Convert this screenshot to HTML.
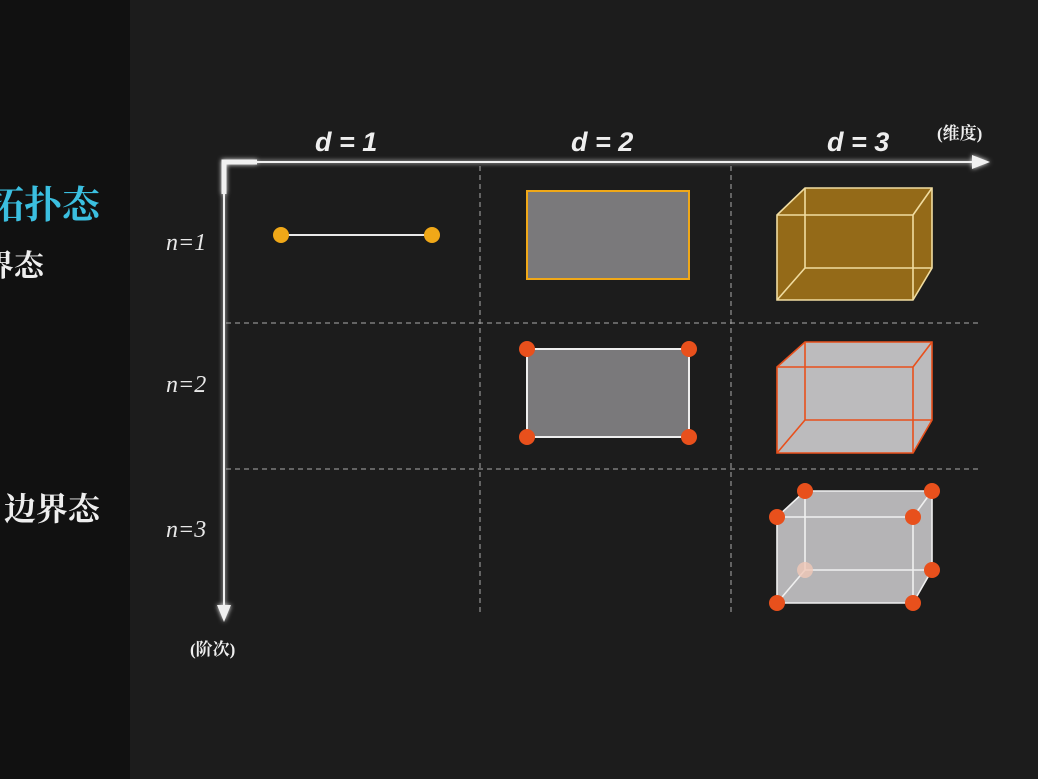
<!DOCTYPE html>
<html><head><meta charset="utf-8"><style>
html,body{margin:0;padding:0;background:#1c1c1c;width:1038px;height:779px;overflow:hidden}
svg{display:block}
.cjk{font-family:"Liberation Serif","Noto Serif CJK SC",serif;font-weight:bold}
.d{font-family:"Liberation Sans",sans-serif;font-weight:bold;font-style:italic;fill:#eeeeee;font-size:27px}
.n{font-family:"Liberation Serif",serif;font-style:italic;fill:#e8e8e8;font-size:24px}
</style></head><body>
<svg width="1038" height="779" viewBox="0 0 1038 779">
<defs>
<filter id="g" x="-20%" y="-20%" width="140%" height="140%"><feGaussianBlur stdDeviation="2.5" result="b"/><feMerge><feMergeNode in="b"/><feMergeNode in="SourceGraphic"/></feMerge></filter>
</defs>
<rect x="0" y="0" width="1038" height="779" fill="#1c1c1c"/>
<rect x="0" y="0" width="130" height="779" fill="#111111"/>
<text x="-14" y="218" class="cjk" fill="#3bbfe0" font-size="38">拓扑态</text>
<text x="-46" y="276" class="cjk" fill="#eeeeee" font-size="30">边界态</text>
<text x="4" y="520" class="cjk" fill="#eeeeee" font-size="32">边界态</text>

<g filter="url(#g)" stroke="#f0f0f0" fill="none">
<line x1="224" y1="162" x2="980" y2="162" stroke-width="2"/>
<polygon points="990,162 972,155 972,169" fill="#f0f0f0" stroke="none"/>
<line x1="224" y1="162" x2="224" y2="612" stroke-width="2"/>
<polygon points="224,622 217,605 231,605" fill="#f0f0f0" stroke="none"/>
<path d="M224,194 V162 H257" stroke-width="5"/>
</g>
<text x="937" y="139" class="cjk" fill="#eee" font-size="17">(维度)</text>
<text x="190" y="655" class="cjk" fill="#eee" font-size="17">(阶次)</text>
<text x="315" y="151" class="d">d = 1</text>
<text x="571" y="151" class="d">d = 2</text>
<text x="827" y="151" class="d">d = 3</text>
<text x="166" y="250" class="n">n=1</text>
<text x="166" y="392" class="n">n=2</text>
<text x="166" y="537" class="n">n=3</text>

<g stroke="#aaaaaa" stroke-width="1" stroke-dasharray="5,4" fill="none">
<line x1="480" y1="166" x2="480" y2="612"/>
<line x1="731" y1="166" x2="731" y2="612"/>
<line x1="226" y1="323" x2="982" y2="323"/>
<line x1="226" y1="469" x2="982" y2="469"/>
</g>

<line x1="281" y1="235" x2="432" y2="235" stroke="#e8e8e8" stroke-width="2"/>
<circle cx="281" cy="235" r="8" fill="#f0a818"/>
<circle cx="432" cy="235" r="8" fill="#f0a818"/>
<rect x="527" y="191" width="162" height="88" fill="#7a797b" stroke="#f0a818" stroke-width="2"/>
<g stroke="#f0dca0" stroke-width="1.6" fill="#946a18">
<polygon points="777,215 805,188 932,188 932,268 913,300 777,300"/>
<path d="M805,188 V268 H932 M805,268 L777,300 M777,215 H913 V300 M913,215 L932,188" fill="none"/>
</g>
<rect x="527" y="349" width="162" height="88" fill="#7a797b" stroke="#eeeeee" stroke-width="2"/>
<g fill="#e8501c"><circle cx="527" cy="349" r="8"/><circle cx="689" cy="349" r="8"/><circle cx="527" cy="437" r="8"/><circle cx="689" cy="437" r="8"/></g>
<g stroke="#e8501c" stroke-width="1.6" fill="#bcbbbd">
<polygon points="777,367 805,342 932,342 932,420 913,453 777,453"/>
<path d="M805,342 V420 H932 M805,420 L777,453 M777,367 H913 V453 M913,367 L932,342" fill="none"/>
</g>
<g stroke="#f0f0f0" stroke-width="1.6" fill="#b5b4b6">
<polygon points="777,517 805,491 932,491 932,570 913,603 777,603"/>
<path d="M805,491 V570 H932 M805,570 L777,603 M777,517 H913 V603 M913,517 L932,491" fill="none"/>
</g>
<circle cx="805" cy="570" r="8" fill="#f0c8b8" opacity="0.8"/>
<g fill="#e8501c"><circle cx="805" cy="491" r="8"/><circle cx="932" cy="491" r="8"/><circle cx="777" cy="517" r="8"/><circle cx="913" cy="517" r="8"/><circle cx="932" cy="570" r="8"/><circle cx="777" cy="603" r="8"/><circle cx="913" cy="603" r="8"/></g>
</svg>
</body></html>
